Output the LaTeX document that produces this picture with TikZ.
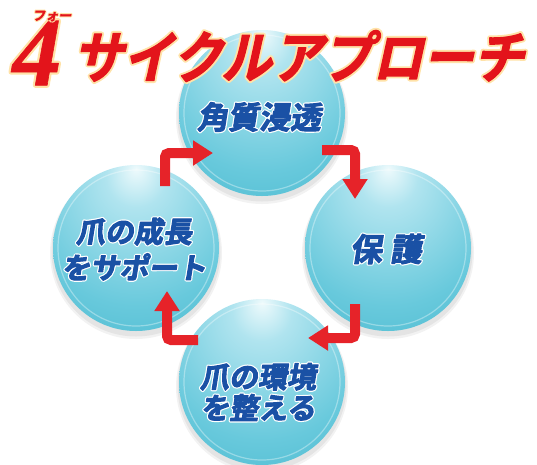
\documentclass[tikz,border=0pt]{standalone}
\usepackage{fontspec}
\usetikzlibrary{arrows.meta}
\newfontfamily\jpfont{Noto Sans CJK JP}[FakeSlant=0.16,BoldFont={* Bold}]
\newfontfamily\jptitle{Noto Sans CJK JP}[FakeSlant=0.22,FakeStretch=0.9,BoldFont={* Bold}]
\newfontfamily\numfont{Liberation Serif}
\definecolor{sphA}{HTML}{EEFAFC}
\definecolor{sphB}{HTML}{B0E4EF}
\definecolor{sphC}{HTML}{68C9DC}
\definecolor{sphD}{HTML}{38B0C7}
\definecolor{sphE}{HTML}{2598AF}
\definecolor{txtblue}{HTML}{1A51A5}
\definecolor{arrowred}{HTML}{E62329}
\definecolor{titlered}{HTML}{E3141B}
\definecolor{titleglow}{HTML}{FFE2A8}
\pgfdeclareradialshading{sphere}{\pgfpoint{0bp}{24bp}}{%
  color(0bp)=(sphA); color(9bp)=(sphB); color(32bp)=(sphC);
  color(57bp)=(sphD); color(70bp)=(sphE); color(80bp)=(sphE)}
\tikzset{
  stroked/.style={execute at begin node={\special{pdf:literal direct #1 w 1 j 1 J 2 Tr}},
    execute at end node={\special{pdf:literal direct 0 Tr 0.4 w}}},
  lbl/.style={inner sep=0,align=center},
  ball/.style={circle,minimum size=166pt,inner sep=0,shading=sphere},
  cyclearrow/.style={draw=arrowred,line width=10pt,rounded corners=4pt,
    -{Triangle[width=24pt,length=20pt]}},
}
% #1 name, #2 position, #3 font, #4 text, #5 colour, #6 halo colour, #7 halo width, #8 inner stroke
\newcommand\halotext[8]{%
  \node[lbl,font=#3,text=#6,stroked=#7] (#1h) at #2 {#4};
  \node[lbl,font=#3,text=#5,stroked=#8] (#1) at #2 {#4};}
\begin{document}
\begin{tikzpicture}[x=1pt,y=-1pt]
\useasboundingbox (0,0) rectangle (537,464);
% shadows
\foreach \c in {(262,113),(136,248),(388,248),(262,382)}{
  \fill[black,opacity=0.05] \c ++(0,5) circle (86);
  \fill[black,opacity=0.06] \c ++(0,4) circle (84.5);
}
% spheres
\node[ball] (top) at (262,113) {};
\node[ball] (left) at (136,248) {};
\node[ball] (right) at (388,248) {};
\node[ball] (bottom) at (262,382) {};
\foreach \n in {top,left,right,bottom}{
  \draw[white,opacity=0.35,line width=1.2pt] (\n.center) circle (78);
}
% title
\halotext{four}{(37,53)}{\numfont\bfseries\itshape\fontsize{98}{98}\selectfont}{4}{titlered}{titleglow}{5}{0.6}
\halotext{ruby}{(52,16)}{\jpfont\bfseries\fontsize{13}{13}\selectfont}{フォー}{titlered}{titleglow}{2.5}{0.3}
\halotext{title}{(298,56)}{\jptitle\bfseries\fontsize{56}{56}\selectfont}{サイクルアプローチ}{titlered}{titleglow}{5}{1.2}
% labels
\halotext{t1}{(259,117)}{\jpfont\bfseries\fontsize{31}{31}\selectfont}{角質浸透}{txtblue}{white}{3.4}{1}
\halotext{t2}{(386,249)}{\jpfont\bfseries\fontsize{32}{32}\selectfont}{保\hspace{8pt}護}{txtblue}{white}{3.4}{1}
\halotext{t3}{(258,392)}{\jpfont\bfseries\fontsize{29}{31}\selectfont}{爪の環境\\を整える}{txtblue}{white}{3.4}{1}
\halotext{t4}{(134,249)}{\jpfont\bfseries\fontsize{29}{36}\selectfont}{爪の成長\\をサポート}{txtblue}{white}{3.4}{1}
% arrows
\coordinate (a1s) at (165,186); \coordinate (a1e) at (213,153);
\coordinate (a2s) at (322,150); \coordinate (a2e) at (355,199);
\coordinate (a3s) at (355,304); \coordinate (a3e) at (308,338);
\coordinate (a4s) at (198,340); \coordinate (a4e) at (167,291);
\draw[cyclearrow] (a1s) |- (a1e);
\draw[cyclearrow] (a2s) -| (a2e);
\draw[cyclearrow] (a3s) |- (a3e);
\draw[cyclearrow] (a4s) -| (a4e);
\end{tikzpicture}
\end{document}
